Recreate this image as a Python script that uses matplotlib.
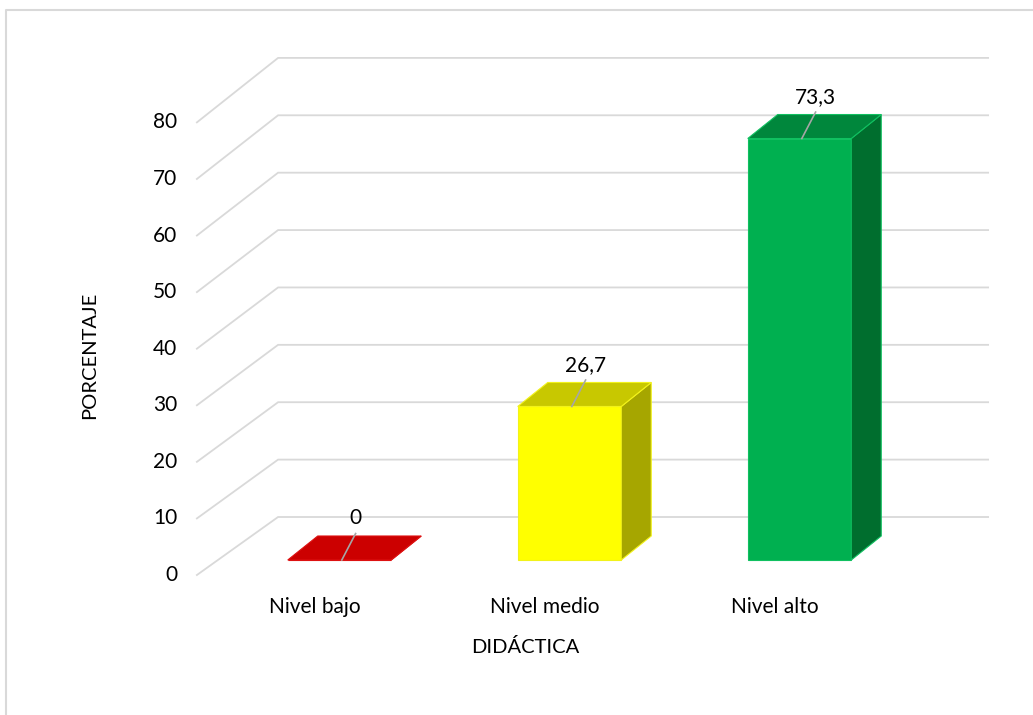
import numpy as np
import matplotlib
matplotlib.use('Agg')
import matplotlib.pyplot as plt
from matplotlib.patches import Polygon, Rectangle
from matplotlib.lines import Line2D

plt.rcParams['font.family'] = ['Lato', 'DejaVu Sans']

# data
categories = ['Nivel bajo', 'Nivel medio', 'Nivel alto']
values = [0, 26.7, 73.3]
yticks = [0, 10, 20, 30, 40, 50, 60, 70, 80]
xlabel = 'DIDÁCTICA'
ylabel = 'PORCENTAJE'

# colours: front, top, side
front_col = ['#FF0000', '#FFFF00', '#00B050']
top_col = ['#CC0000', '#C8C800', '#00873C']
side_col = ['#A00000', '#A6A600', '#006E2E']
edge_col = ['#DD1111', '#F2F21A', '#10C060']
grid_col = '#D9D9D9'

W, H = 1033, 715
px_cat, px_val = 230.0, 5.75      # pixels per category / per unit
x0_px, y0_px = 339.5, 560.0       # position of first bar, value 0

fig = plt.figure(figsize=(W / 100, H / 100), dpi=100)
ax = fig.add_axes([0, 0, 1, 1])
ax.set_xlim(-x0_px / px_cat, (W - x0_px) / px_cat)
ax.set_ylim(-(H - y0_px) / px_val, y0_px / px_val)
ax.axis('off')

# 3d geometry (in data units)
bar_w = 0.45
dep_x, dep_y = 30 / px_cat, 24 / px_val
wall_front_x, wall_back_x, wall_right_x = -0.62, -0.267, 2.82
fs = 15

# walls / gridlines
for v in yticks:
    yf = -2.61 + 0.984 * v
    yb = 7.48 + 0.998 * v
    ax.plot([wall_front_x, wall_back_x, wall_right_x], [yf, yb, yb],
            color=grid_col, lw=1.3, solid_joinstyle='miter', zorder=1)
    ax.text(-0.705, yf, str(v), ha='right', va='center', fontsize=fs, color='#000000')

# bars
for i, v in enumerate(values):
    xl, xr = i - bar_w / 2, i + bar_w / 2
    ax.add_patch(Rectangle((xl, 0), bar_w, v, facecolor=front_col[i],
                           edgecolor=edge_col[i], lw=0.8, zorder=3))
    ax.add_patch(Polygon([(xr, 0), (xr + dep_x, dep_y), (xr + dep_x, v + dep_y), (xr, v)],
                         closed=True, facecolor=side_col[i], edgecolor=edge_col[i], lw=0.8, zorder=3))
    ax.add_patch(Polygon([(xl, v), (xr, v), (xr + dep_x, v + dep_y), (xl + dep_x, v + dep_y)],
                         closed=True, facecolor=top_col[i], edgecolor=edge_col[i], lw=0.8, zorder=4))
    # leader line + value label
    lx0, ly0 = i + 0.01, v
    lx1, ly1 = i + 0.07, v + 4.6
    ax.plot([lx0, lx1], [ly0, ly1], color='#A6A6A6', lw=1.2, zorder=5)
    ax.text(lx1, ly1 + 0.9, ('%g' % v).replace('.', ','), ha='center', va='bottom',
            fontsize=fs, color='#000000', zorder=6)
    ax.text(i - 0.107, -8.2, categories[i], ha='center', va='center', fontsize=fs, color='#000000')

fig.text(525 / W, 1 - 647 / H, xlabel, ha='center', va='center', fontsize=14.5)
fig.text(90 / W, 1 - 355 / H, ylabel, ha='center', va='center', rotation=90, fontsize=14.5)

# chart border (left and top)
fig.add_artist(Line2D([6 / W, 6 / W, 1], [0, 1 - 10 / H, 1 - 10 / H],
                      transform=fig.transFigure, color='#D9D9D9', lw=1.5))

fig.savefig('out.png', dpi=100, facecolor='white')
